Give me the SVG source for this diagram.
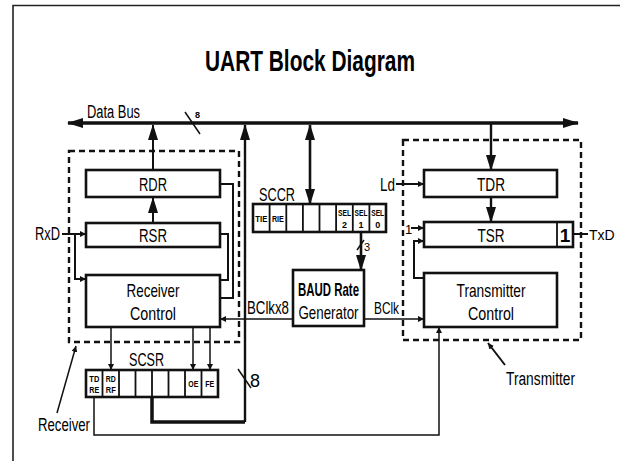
<svg xmlns="http://www.w3.org/2000/svg" width="620" height="461" viewBox="0 0 620 461">
<defs>
<style>
text{font-family:"Liberation Sans Narrow","Liberation Sans",Arial,sans-serif;fill:#000}
.t{font-size:19px;text-anchor:middle}
.l{font-size:18px}
.b{font-weight:bold}
.s{font-size:9px;font-weight:bold;text-anchor:middle}
.box{fill:#fff;stroke:#111;stroke-width:2.6}
.cell{fill:#fff;stroke:#111;stroke-width:1.8}
.dash{fill:none;stroke:#111;stroke-width:2.4;stroke-dasharray:6,4}
.w{fill:none;stroke:#111;stroke-width:2}
.thin{fill:none;stroke:#111;stroke-width:1.5}
.thick{fill:none;stroke:#111;stroke-width:3.5}
</style>
<marker id="ah" markerUnits="userSpaceOnUse" markerWidth="16" markerHeight="10" refX="15" refY="5" orient="auto-start-reverse"><path d="M0,0 L16,5 L0,10 z" fill="#111"/></marker>
<marker id="sa" markerUnits="userSpaceOnUse" markerWidth="6" markerHeight="6" refX="6" refY="3" orient="auto"><path d="M0,0 L6,3 L0,6 z" fill="#111"/></marker>
</defs>
<rect width="620" height="461" fill="#fff"/>
<path d="M13,461 V5.5 H620" fill="none" stroke="#222" stroke-width="1.6"/>
<text x="310" y="71" font-size="29" font-weight="bold" text-anchor="middle" textLength="210" lengthAdjust="spacingAndGlyphs">UART Block Diagram</text>

<g id="connectors">
<line x1="68" y1="123" x2="578" y2="123" stroke="#111" stroke-width="3.5" marker-start="url(#ah)" marker-end="url(#ah)"/>
<line x1="185" y1="112" x2="200" y2="134" class="thin"/>
<line x1="153" y1="169" x2="153" y2="125" class="w" marker-end="url(#ah)"/>
<line x1="153" y1="223" x2="153" y2="198" class="w" marker-end="url(#ah)"/>
<path d="M152,397 V422 H245" class="thick"/>
<line x1="245" y1="422" x2="245" y2="125" stroke="#111" stroke-width="2.4" marker-end="url(#ah)"/>
<line x1="238" y1="369" x2="251" y2="388" class="thin"/>
<line x1="310" y1="125" x2="310" y2="204" stroke="#111" stroke-width="2.6" marker-start="url(#ah)" marker-end="url(#ah)"/>
<line x1="361" y1="232" x2="361" y2="270" stroke="#111" stroke-width="2.6" marker-end="url(#ah)"/>
<line x1="357" y1="250" x2="364" y2="240" class="thin"/>
<line x1="491" y1="123" x2="491" y2="170" stroke="#111" stroke-width="2.4" marker-end="url(#ah)"/>
<line x1="491" y1="197" x2="491" y2="222" stroke="#111" stroke-width="2.4" marker-end="url(#ah)"/>
<path d="M220,184 H233 V298 H220" class="w"/>
<path d="M220,234 H228 V280 H220" class="w"/>
<line x1="62" y1="234" x2="86" y2="234" class="w" marker-end="url(#sa)"/>
<path d="M75,234 V279 H86" class="w" marker-end="url(#sa)"/>
<line x1="293" y1="319" x2="220" y2="319" class="thin" marker-end="url(#sa)"/>
<line x1="364" y1="319" x2="424" y2="319" class="thin" marker-end="url(#sa)"/>
<line x1="396" y1="184" x2="424" y2="184" class="w" marker-end="url(#sa)"/>
<line x1="411" y1="228" x2="424" y2="228" class="w" marker-end="url(#sa)"/>
<path d="M424,278 H414 V241 H424" class="w" marker-end="url(#sa)"/>
<line x1="573" y1="234" x2="588" y2="234" class="w"/>
<line x1="111" y1="327" x2="111" y2="370" class="thin" marker-end="url(#sa)"/>
<line x1="193" y1="327" x2="193" y2="370" class="thin" marker-end="url(#sa)"/>
<line x1="210" y1="327" x2="210" y2="370" class="thin" marker-end="url(#sa)"/>
<path d="M94,397 V435 H439 V327" class="thin" marker-end="url(#sa)"/>
<line x1="57" y1="413" x2="76" y2="346" class="thin" marker-end="url(#sa)"/>
<line x1="505" y1="365" x2="488" y2="343" class="w" marker-end="url(#sa)"/>
</g>

<g id="receiver">
<rect x="69" y="151" width="170" height="191" class="dash"/>
</g>
<g id="transmitter">
<rect x="403" y="140" width="178" height="200" class="dash"/>
</g>

<g id="rdr"><rect x="86" y="170" width="134" height="27" class="box"/><text x="153" y="191" class="t" textLength="28" lengthAdjust="spacingAndGlyphs">RDR</text></g>
<g id="rsr"><rect x="86" y="223" width="134" height="24" class="box"/><text x="153" y="242" class="t" textLength="28" lengthAdjust="spacingAndGlyphs">RSR</text></g>
<g id="receiver-control"><rect x="86" y="275" width="134" height="52" class="box"/>
<text x="153" y="297" class="t" textLength="53" lengthAdjust="spacingAndGlyphs">Receiver</text>
<text x="153" y="320" class="t" textLength="46" lengthAdjust="spacingAndGlyphs">Control</text></g>

<g id="sccr">
<text x="259" y="201" font-size="18" textLength="36" lengthAdjust="spacingAndGlyphs">SCCR</text>
<rect x="253" y="204" width="133" height="28" class="box"/>
<path d="M269.6,204 V232 M286.3,204 V232 M302.9,204 V232 M319.5,204 V232 M336.1,204 V232 M352.8,204 V232 M369.4,204 V232" class="cell"/>
<text x="261.3" y="222" class="s" textLength="12" lengthAdjust="spacingAndGlyphs">TIE</text>
<text x="277.9" y="222" class="s" textLength="12" lengthAdjust="spacingAndGlyphs">RIE</text>
<text x="344.5" y="216" class="s" textLength="13" lengthAdjust="spacingAndGlyphs">SEL</text><text x="344.5" y="228" class="s">2</text>
<text x="361.1" y="216" class="s" textLength="13" lengthAdjust="spacingAndGlyphs">SEL</text><text x="361.1" y="228" class="s">1</text>
<text x="377.7" y="216" class="s" textLength="13" lengthAdjust="spacingAndGlyphs">SEL</text><text x="377.7" y="228" class="s">0</text>
</g>

<g id="baud">
<rect x="293" y="270" width="71" height="56" class="box"/>
<text x="328.5" y="296" class="t b" font-size="15" textLength="61" lengthAdjust="spacingAndGlyphs">BAUD Rate</text>
<text x="328.5" y="319" class="t" font-size="16" textLength="60" lengthAdjust="spacingAndGlyphs">Generator</text>
</g>

<g id="tdr"><rect x="424" y="170" width="133" height="27" class="box"/><text x="491" y="191" class="t" textLength="28" lengthAdjust="spacingAndGlyphs">TDR</text></g>
<g id="tsr"><rect x="424" y="222" width="149" height="25" class="box"/><line x1="557" y1="222" x2="557" y2="247" class="cell"/>
<text x="491" y="242" class="t" textLength="27" lengthAdjust="spacingAndGlyphs">TSR</text>
<text x="565" y="242" class="t b" font-size="17">1</text></g>
<g id="transmitter-control"><rect x="424" y="273" width="133" height="54" class="box"/>
<text x="491" y="297" class="t" textLength="69" lengthAdjust="spacingAndGlyphs">Transmitter</text>
<text x="491" y="320" class="t" textLength="46" lengthAdjust="spacingAndGlyphs">Control</text></g>

<g id="scsr">
<text x="129" y="366" font-size="18" textLength="35" lengthAdjust="spacingAndGlyphs">SCSR</text>
<rect x="86" y="370" width="132" height="27" class="box"/>
<path d="M102.5,370 V397 M119,370 V397 M135.5,370 V397 M152,370 V397 M168.5,370 V397 M185,370 V397 M201.5,370 V397" class="cell"/>
<text x="94.3" y="382" class="s" textLength="10" lengthAdjust="spacingAndGlyphs">TD</text><text x="94.3" y="393" class="s" textLength="10" lengthAdjust="spacingAndGlyphs">RE</text>
<text x="110.8" y="382" class="s" textLength="10" lengthAdjust="spacingAndGlyphs">RD</text><text x="110.8" y="393" class="s" textLength="10" lengthAdjust="spacingAndGlyphs">RF</text>
<text x="193.3" y="387" class="s" textLength="10" lengthAdjust="spacingAndGlyphs">OE</text>
<text x="209.8" y="387" class="s" textLength="9" lengthAdjust="spacingAndGlyphs">FE</text>
</g>

<g id="labels">
<text x="87" y="118" class="l" textLength="53" lengthAdjust="spacingAndGlyphs">Data Bus</text>
<text x="195" y="118" font-size="9" font-weight="bold">8</text>
<text x="35" y="240" class="l" textLength="25" lengthAdjust="spacingAndGlyphs">RxD</text>
<text x="589" y="240" font-size="14">TxD</text>
<text x="380" y="191" class="l" textLength="15" lengthAdjust="spacingAndGlyphs">Ld</text>
<text x="405" y="234" font-size="13">1</text>
<text x="364" y="251" font-size="11">3</text>
<text x="247" y="314" class="l" textLength="42" lengthAdjust="spacingAndGlyphs">BClkx8</text>
<text x="374" y="314" font-size="16" textLength="25" lengthAdjust="spacingAndGlyphs">BClk</text>
<text x="250" y="387" class="l">8</text>
<text x="38" y="431" class="l" textLength="52" lengthAdjust="spacingAndGlyphs">Receiver</text>
<text x="506" y="385" class="l" textLength="69" lengthAdjust="spacingAndGlyphs">Transmitter</text>
</g>
</svg>
